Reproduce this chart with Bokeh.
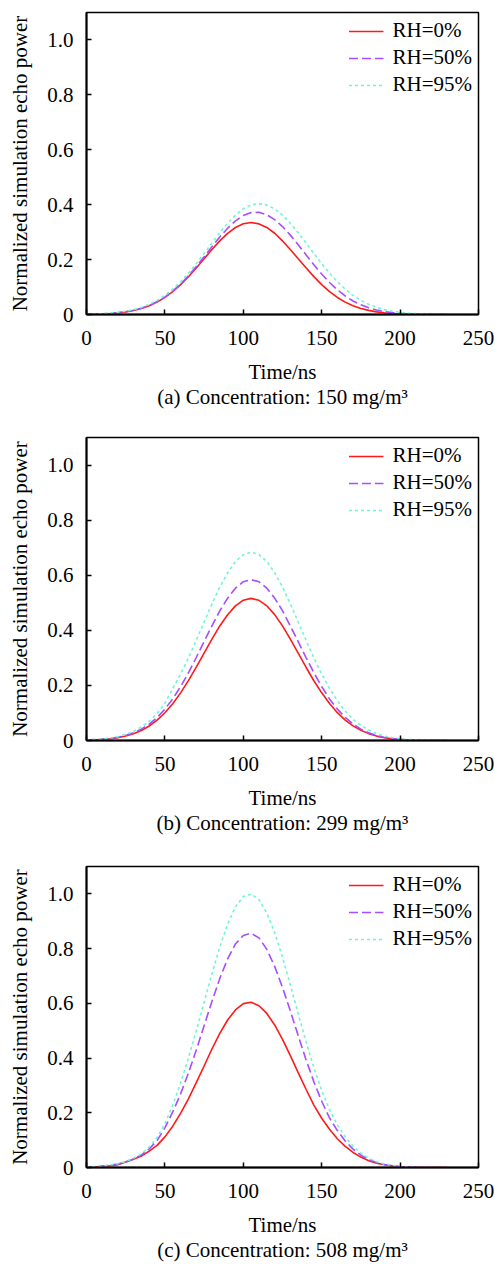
from bokeh.plotting import figure
from bokeh.layouts import column
from bokeh.models import FixedTicker
from bokeh.embed import file_html
from bokeh.resources import INLINE

# ---------------- data ----------------
time_ns = list(range(0, 235, 5))

series_labels = ["RH=0%", "RH=50%", "RH=95%"]
captions = ["(a) Concentration: 150 mg/m\u00b3",
            "(b) Concentration: 299 mg/m\u00b3",
            "(c) Concentration: 508 mg/m\u00b3"]

# (a) 150 mg/m3
a_rh0 = [0.001, 0.0013, 0.0022, 0.0037, 0.0061, 0.0096, 0.0147, 0.022, 0.032, 0.0452,
         0.0623, 0.0834, 0.1089, 0.1377, 0.1695, 0.2033, 0.2368, 0.2683, 0.2955, 0.3169,
         0.3303, 0.335, 0.330, 0.317, 0.296, 0.268, 0.237, 0.203, 0.170, 0.138,
         0.109, 0.083, 0.062, 0.045, 0.032, 0.022, 0.015, 0.0096, 0.0061, 0.0037,
         0.0022, 0.0013, 0.001, 0.0, 0.0, 0.0, 0.0]
a_rh50 = [0.0008, 0.0014, 0.0024, 0.0039, 0.0063, 0.0099, 0.0152, 0.0226, 0.0327, 0.0463,
          0.0634, 0.0850, 0.1108, 0.1410, 0.1746, 0.2104, 0.2469, 0.2824, 0.3144, 0.3413,
          0.3607, 0.3711, 0.3723, 0.3633, 0.3458, 0.3204, 0.2891, 0.2540, 0.2175, 0.1813,
          0.1473, 0.1167, 0.0899, 0.0675, 0.0492, 0.0351, 0.0244, 0.0164, 0.0108, 0.0069,
          0.0043, 0.0026, 0.0016, 0.0009, 0.0005, 0.0, 0.0]
a_rh95 = [0.0011, 0.0019, 0.0031, 0.0049, 0.0078, 0.0119, 0.0178, 0.026, 0.037, 0.0514,
          0.0698, 0.0924, 0.1193, 0.1504, 0.1851, 0.2223, 0.2605, 0.2978, 0.3324, 0.362,
          0.3848, 0.3991, 0.404, 0.3991, 0.3848, 0.362, 0.3324, 0.2978, 0.2605, 0.2223,
          0.1851, 0.1504, 0.1193, 0.0924, 0.0698, 0.0514, 0.037, 0.026, 0.0178, 0.0119,
          0.0078, 0.0049, 0.0031, 0.0019, 0.0011, 0.0006, 0.0004]

# (b) 299 mg/m3
b_rh0 = [0.001, 0.002, 0.004, 0.0065, 0.0104, 0.0163, 0.0247, 0.0365, 0.0526, 0.0738,
         0.1006, 0.1336, 0.1729, 0.2172, 0.2663, 0.3173, 0.3679, 0.4159, 0.4567, 0.4887,
         0.5093, 0.516, 0.509, 0.489, 0.457, 0.416, 0.368, 0.317, 0.266, 0.217,
         0.173, 0.134, 0.101, 0.074, 0.053, 0.037, 0.025, 0.016, 0.010, 0.006,
         0.004, 0.002, 0.001, 0.0, 0.0, 0.0, 0.0]
b_rh50 = [0.0015, 0.003, 0.0044, 0.0073, 0.0117, 0.0184, 0.0279, 0.0413, 0.0596, 0.0835,
          0.1139, 0.1512, 0.1956, 0.2459, 0.3013, 0.3592, 0.4164, 0.4707, 0.5168, 0.5530,
          0.5764, 0.584, 0.576, 0.553, 0.517, 0.471, 0.416, 0.359, 0.301, 0.246,
          0.196, 0.151, 0.114, 0.084, 0.060, 0.041, 0.028, 0.018, 0.011, 0.007,
          0.004, 0.002, 0.001, 0.0, 0.0, 0.0, 0.0]
b_rh95 = [0.002, 0.003, 0.005, 0.009, 0.014, 0.022, 0.033, 0.049, 0.070, 0.098,
          0.135, 0.1888, 0.2408, 0.2996, 0.3639, 0.4302, 0.4959, 0.5568, 0.6088, 0.6498,
          0.6751, 0.684, 0.675, 0.650, 0.609, 0.557, 0.496, 0.430, 0.364, 0.300,
          0.241, 0.189, 0.144, 0.107, 0.077, 0.055, 0.038, 0.025, 0.016, 0.0105,
          0.0065, 0.004, 0.002, 0.001, 0.0, 0.0, 0.0]

# (c) 508 mg/m3
c_rh0 = [0.001, 0.002, 0.004, 0.006, 0.010, 0.020, 0.030, 0.042, 0.060, 0.081,
         0.112, 0.151, 0.198, 0.251, 0.310, 0.371, 0.433, 0.490, 0.539, 0.576,
         0.599, 0.604, 0.591, 0.563, 0.521, 0.468, 0.409, 0.347, 0.286, 0.228,
         0.180, 0.140, 0.105, 0.077, 0.055, 0.038, 0.025, 0.016, 0.010, 0.006,
         0.003, 0.002, 0.001, 0.0, 0.0, 0.0, 0.0]
c_rh50 = [0.002, 0.003, 0.005, 0.008, 0.013, 0.020, 0.031, 0.046, 0.068, 0.098,
          0.145, 0.203, 0.269, 0.345, 0.429, 0.518, 0.607, 0.691, 0.762, 0.817,
          0.848, 0.856, 0.839, 0.797, 0.735, 0.658, 0.572, 0.482, 0.394, 0.313,
          0.242, 0.181, 0.135, 0.097, 0.067, 0.045, 0.029, 0.018, 0.011, 0.006,
          0.003, 0.002, 0.001, 0.0, 0.0, 0.0, 0.0]
c_rh95 = [0.002, 0.003, 0.005, 0.009, 0.014, 0.022, 0.034, 0.050, 0.075, 0.110,
          0.160, 0.228, 0.308, 0.400, 0.500, 0.604, 0.708, 0.806, 0.889, 0.953,
          0.990, 0.999, 0.979, 0.930, 0.858, 0.768, 0.667, 0.562, 0.460, 0.365,
          0.282, 0.211, 0.156, 0.112, 0.078, 0.052, 0.034, 0.021, 0.013, 0.008,
          0.004, 0.002, 0.001, 0.0, 0.0, 0.0, 0.0]

x_ticks = [0, 50, 100, 150, 200, 250]
y_ticks = [0, 0.2, 0.4, 0.6, 0.8, 1.0]
y_tick_labels = {0: "0", 0.2: "0.2", 0.4: "0.4", 0.6: "0.6", 0.8: "0.8", 1.0: "1.0"}

panels = [
    (a_rh0, a_rh50, a_rh95),
    (b_rh0, b_rh50, b_rh95),
    (c_rh0, c_rh50, c_rh95),
]

# ---------------- styling ----------------
FONT = "Liberation Serif"
FS = "21px"
colors = ["#FF1A1A", "#A64DFF", "#6FF5D3"]
dashes = ["solid", "9 4", "3 3"]
fig_heights = [420, 425, 419]
borders_top = [12, 17, 21]
borders_bottom = [106, 105, 95]

figs = []
for i, (series, cap) in enumerate(zip(panels, captions)):
    p = figure(width=495, height=fig_heights[i], x_range=(0, 250), y_range=(0, 1.1),
               output_backend="svg", toolbar_location=None,
               min_border_left=86, min_border_right=17,
               min_border_top=borders_top[i], min_border_bottom=borders_bottom[i])
    p.grid.visible = False
    p.outline_line_color = "black"
    p.outline_line_width = 1.5

    for ys, lab, col, dsh in zip(series, series_labels, colors, dashes):
        p.line(time_ns, ys, line_color=col, line_width=1.6, line_dash=dsh,
               legend_label=lab)

    p.axis.axis_line_width = 2
    p.axis.axis_line_color = "black"
    p.axis.major_tick_in = 5
    p.axis.major_tick_out = 0
    p.axis.minor_tick_in = 0
    p.axis.minor_tick_out = 0
    p.axis.major_tick_line_width = 1.5
    p.axis.major_label_text_font = FONT
    p.axis.major_label_text_font_size = FS
    p.axis.major_label_text_color = "black"
    p.axis.axis_label_text_font = FONT
    p.axis.axis_label_text_font_size = FS
    p.axis.axis_label_text_font_style = "normal"
    p.axis.axis_label_text_color = "black"

    p.xaxis.ticker = FixedTicker(ticks=x_ticks)
    p.yaxis.ticker = FixedTicker(ticks=y_ticks)
    p.yaxis.major_label_overrides = y_tick_labels
    # x-axis label carries the panel caption as its second line
    p.xaxis.axis_label = "Time/ns\n" + cap
    p.xaxis.axis_label_text_line_height = 1.05
    p.yaxis.axis_label = "Normalized simulation echo power"
    p.xaxis.major_label_standoff = 16
    p.yaxis.major_label_standoff = 13
    p.xaxis.axis_label_standoff = 12
    p.yaxis.axis_label_standoff = 12

    p.legend.location = "top_right"
    p.legend.border_line_color = None
    p.legend.background_fill_alpha = 0
    p.legend.margin = 6
    p.legend.padding = 5
    p.legend.spacing = 2
    p.legend.glyph_width = 35
    p.legend.glyph_height = 20
    p.legend.label_height = 20
    p.legend.label_standoff = 9
    p.legend.label_text_font = FONT
    p.legend.label_text_font_size = FS
    p.legend.label_text_color = "black"
    figs.append(p)

layout = column(*figs, spacing=0)
open("out.html", "w").write(file_html(layout, INLINE))
